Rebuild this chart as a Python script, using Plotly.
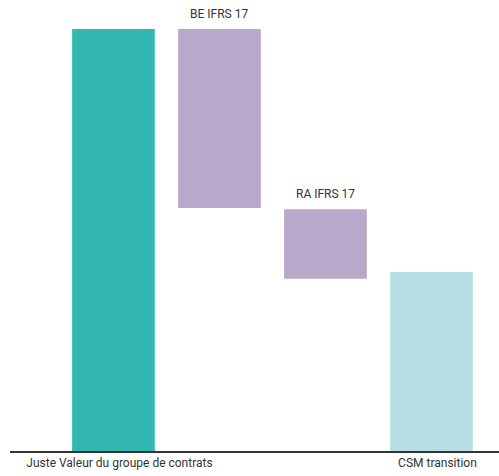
import plotly.graph_objects as go

categories = ["Juste Valeur du groupe de contrats", "BE IFRS 17", "RA IFRS 17", "CSM transition"]
bar_bases = [0, 57.6, 40.8, 0]
bar_values = [100, 42.4, 16.5, 42.4]
bar_colors = ["#33B7B1", "#B8A9CA", "#B8A9CA", "#B6DDE3"]
tick_labels = ["Juste Valeur du groupe de contrats", "", "", "CSM transition"]
top_labels = ["", "BE IFRS 17", "RA IFRS 17", ""]

fig = go.Figure()
fig.add_trace(go.Bar(
    x=list(range(len(categories))),
    y=bar_values,
    base=bar_bases,
    marker=dict(color=bar_colors, line=dict(width=0)),
    width=0.78,
    hoverinfo="skip",
))

for i, lab in enumerate(top_labels):
    if lab:
        fig.add_annotation(
            x=i, y=bar_bases[i] + bar_values[i], text=lab, showarrow=False,
            yanchor="bottom", yshift=6,
            font=dict(family="Roboto, sans-serif", size=12, color="#333333"),
        )

fig.update_layout(
    width=499, height=476,
    margin=dict(l=10, r=0, t=29, b=25),
    paper_bgcolor="white", plot_bgcolor="white",
    showlegend=False,
    xaxis=dict(
        range=[-0.976, 3.637],
        tickmode="array", tickvals=list(range(len(categories))), ticktext=tick_labels,
        showline=True, linecolor="#333333", linewidth=1.5,
        showgrid=False, zeroline=False, ticks="",
        tickfont=dict(family="Roboto, sans-serif", size=12, color="#333333"),
        ticklabelshift=6,
    ),
    yaxis=dict(range=[0, 100], visible=False, showgrid=False, zeroline=False),
)

fig.write_html("out.html")
